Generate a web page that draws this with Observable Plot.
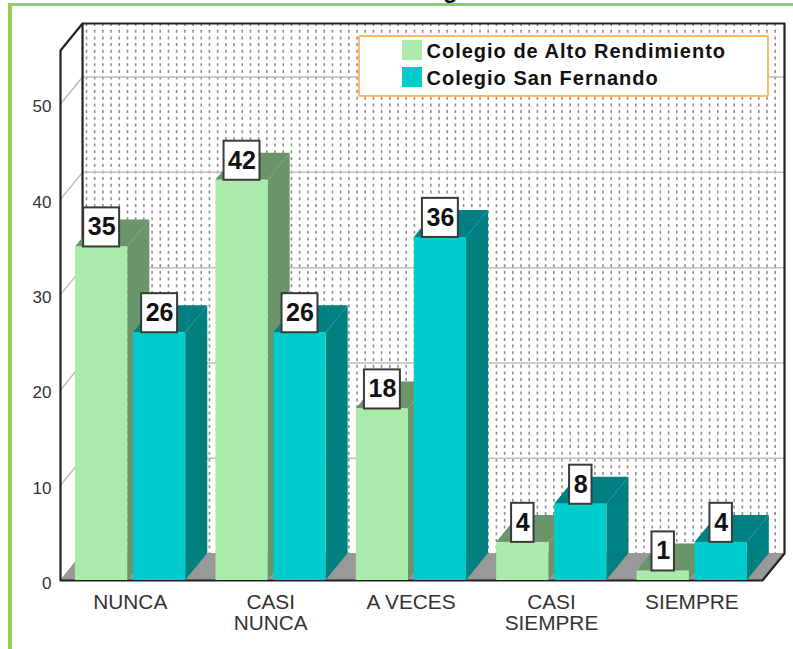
<!DOCTYPE html>
<html>
<head>
<meta charset="utf-8">
<script src="https://cdn.jsdelivr.net/npm/d3@7"></script>
<script src="https://cdn.jsdelivr.net/npm/@observablehq/plot@0.6"></script>
<style>
html,body{margin:0;padding:0;background:#fff;overflow:hidden}
#wrap{position:relative;width:793px;height:649px;overflow:hidden}
#wrap svg{position:absolute;left:0;top:0;background:transparent}
#frame{position:absolute;left:8px;top:3px;width:785px;height:646px;box-sizing:border-box;border-top:3px solid #92d050;border-left:4px solid #92d050}
#title{position:absolute;left:443px;top:-22px;font:bold 24px/24px "Liberation Sans",Arial,sans-serif;color:#111}
#legend{position:absolute;left:358px;top:35px;width:411px;height:62px;box-sizing:border-box;background:#fff;border:2.5px solid #fdb965;border-radius:2px;font:bold 20px "Liberation Sans",Arial,sans-serif;color:#111}
#legend div{position:absolute;left:41.5px;height:20px;white-space:nowrap;letter-spacing:1px}
#legend i{display:inline-block;width:20px;height:20px;margin-right:5px;vertical-align:top}
#legend span{line-height:20px;position:relative;top:0}
</style>
</head>
<body>
<div id="wrap"><div id="title">g</div><div id="frame"></div></div>
<script>
const categories = ["NUNCA", "CASI\nNUNCA", "A VECES", "CASI\nSIEMPRE", "SIEMPRE"];
const seriesNames = ["Colegio de Alto Rendimiento", "Colegio San Fernando"];
const alto = [35, 42, 18, 4, 1];
const sanFernando = [26, 26, 36, 8, 4];
const yTicks = [0, 10, 20, 30, 40, 50];

const frontColors = ["#aaeaaa", "#00cccc"];
const sideColors = ["#6a9469", "#008080"];

// chart geometry in data units
const dx = 0.157, dy = 2.83, yWall = 55.62, xWall = 5;
const barW = 0.372, offsets = [0.107, 0.52];
const bars = [alto, sanFernando].flatMap((vals, s) =>
  vals.map((v, i) => ({s, i, v, x1: i + offsets[s], x2: i + offsets[s] + barW, key: s + "-" + i})));

const sides = bars.flatMap(b => [
  {key: b.key, s: b.s, x: b.x2, y1: 0, y2: b.v},
  {key: b.key, s: b.s, x: b.x2 + dx, y1: dy, y2: b.v + dy}]);
const tops = bars.flatMap(b => [
  {key: b.key, s: b.s, y: b.v, x1: b.x1, x2: b.x2},
  {key: b.key, s: b.s, y: b.v + dy, x1: b.x1 + dx, x2: b.x2 + dx}]);

const barMarks = [];
categories.forEach((c, i) => [0, 1].forEach(s => {
  const k = s + "-" + i;
  barMarks.push(
    Plot.area(tops.filter(d => d.key === k), {x1: "x1", x2: "x2", y1: "y", y2: "y", fill: sideColors[s]}),
    Plot.area(sides.filter(d => d.key === k), {x1: "x", x2: "x", y1: "y1", y2: "y2", fill: sideColors[s]}),
    Plot.rect(bars.filter(d => d.key === k), {x1: "x1", x2: "x2", y1: 0, y2: "v", fill: frontColors[s], inset: 0})
  );
}));

const boxH = 4.1, boxW2 = 0.128, boxW1 = 0.08;
const halfW = b => (b.v >= 10 ? boxW2 : boxW1);

const dotCols = d3.range(0, 85).map(k => 0.185 + k * 0.0584);

const chart = Plot.plot({
  width: 793, height: 649,
  marginLeft: 60, marginRight: 9, marginTop: 23, marginBottom: 69,
  style: {background: "transparent", fontFamily: "'Liberation Sans', Arial, sans-serif"},
  x: {domain: [0, xWall + dx], axis: null},
  y: {domain: [0, yWall + dy], axis: null},
  marks: [
    // back wall dots
    Plot.ruleX(dotCols, {x: d => d, y1: yWall + dy, y2: dy, stroke: "#8f8f8f", strokeWidth: 1.6, strokeDasharray: "3 3.7"}),
    // gridlines on back wall
    Plot.ruleY(yTicks.slice(1), {y: d => d + dy, x1: dx, x2: xWall + dx, stroke: "#bdbdbd", strokeWidth: 1.5}),
    // left wall
    Plot.area([{x: 0, y1: 0, y2: yWall}, {x: dx, y1: dy, y2: yWall + dy}], {x1: "x", x2: "x", y1: "y1", y2: "y2", fill: "#fff"}),
    Plot.link(yTicks.slice(1), {x1: 0, x2: dx, y1: d => d, y2: d => d + dy, stroke: "#bdbdbd", strokeWidth: 1.5}),
    // floor
    Plot.area([{y: 0, x1: 0, x2: xWall}, {y: dy, x1: dx, x2: xWall + dx}], {x1: "x1", x2: "x2", y1: "y", y2: "y", fill: "#999999"}),
    // wall outlines
    Plot.line([{x: 0, y: 0}, {x: 0, y: yWall}, {x: dx, y: yWall + dy}, {x: xWall + dx, y: yWall + dy}, {x: xWall + dx, y: dy}, {x: xWall, y: 0}, {x: 0, y: 0}],
      {x: "x", y: "y", stroke: "#222", strokeWidth: 2.2}),
    Plot.ruleX([dx], {y1: dy, y2: yWall + dy, stroke: "#222", strokeWidth: 2.2}),
    ...barMarks,
    // value boxes
    Plot.rect(bars, {x1: d => (d.x1 + d.x2) / 2 - halfW(d), x2: d => (d.x1 + d.x2) / 2 + halfW(d), y1: d => d.v, y2: d => d.v + boxH, fill: "#fff", stroke: "#3a3a3a", strokeWidth: 2}),
    Plot.text(bars, {x: d => (d.x1 + d.x2) / 2, y: d => d.v + boxH / 2, text: d => String(d.v), fontSize: 25, fontWeight: "bold", fill: "#111", lineAnchor: "middle"}),
    // y tick labels
    Plot.text(yTicks, {x: 0, y: d => d, text: d => String(d), textAnchor: "end", dx: -9, dy: 3, fontSize: 17, fill: "#333", lineAnchor: "middle"}),
    // category labels
    Plot.text(categories, {x: (d, i) => i + 0.497, y: 0, text: d => d, dy: 14, lineAnchor: "top", fontSize: 20.8, lineHeight: 1.0, fill: "#333"})
  ]
});
const wrap = document.getElementById("wrap");
wrap.insertBefore(chart, wrap.firstChild);

const legend = document.createElement("div");
legend.id = "legend";
seriesNames.forEach((n, i) => {
  const row = document.createElement("div");
  row.style.top = (i === 0 ? 2.5 : 29.5) + "px";
  const sw = document.createElement("i");
  sw.style.background = frontColors[i];
  const t = document.createElement("span");
  t.textContent = n;
  row.append(sw, t);
  legend.append(row);
});
wrap.append(legend);
</script>
</body>
</html>
